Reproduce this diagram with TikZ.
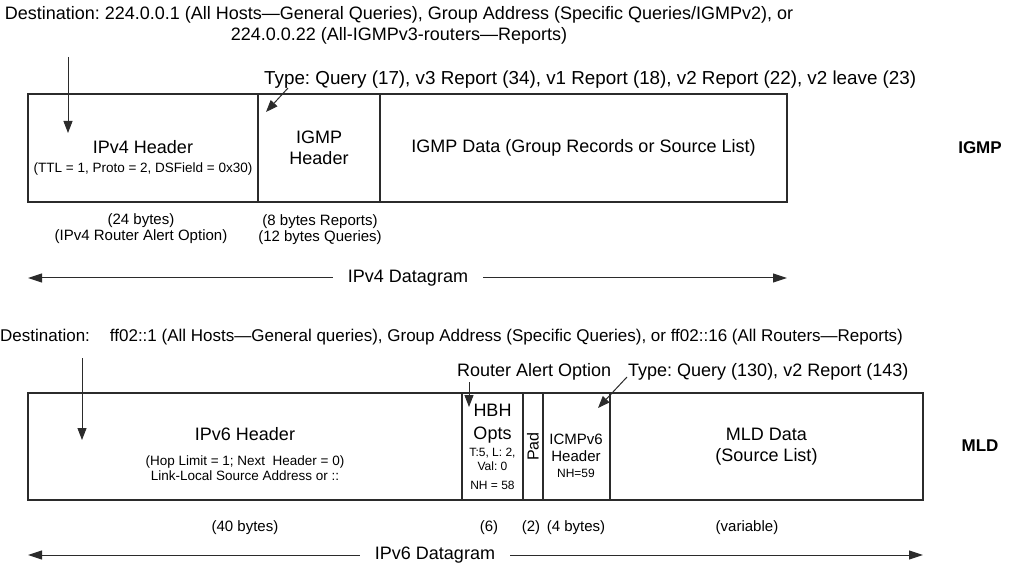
\documentclass[tikz,border=0pt]{standalone}
\usepackage{fontspec}
\setmainfont{Liberation Sans}
\usepackage{graphicx}
\usetikzlibrary{positioning,arrows.meta}
\frenchspacing
\definecolor{Frame}{HTML}{2B2B2B}
\newcommand\fnMain{\fontsize{18}{21}\selectfont}
\newcommand\fnNote{\fontsize{13.5}{15.5}\selectfont}
\newcommand\fnBytes{\fontsize{15}{16}\selectfont}
\newcommand\fnTiny{\fontsize{12}{14}\selectfont}
\newcommand\fnTag{\fontsize{17}{19}\selectfont\bfseries}

\begin{document}
\begin{tikzpicture}[x=1pt, y=-1pt, node distance=0pt, every node/.style={align=center, inner sep=0pt},
  field/.style={draw=Frame, line width=1.1pt, outer sep=0pt, minimum height=108pt, font=\fnMain},
  ptr/.style={draw=Frame, line width=1pt, -{Triangle[length=12pt,width=9pt]}},
  span/.style={draw=Frame, line width=1pt, -{Triangle[length=14pt,width=9pt]}},
  bytes/.style={font=\fnBytes}]
\useasboundingbox (0,0) rectangle (1010,564);

% IGMP packet
\node[font=\fnMain] (dest4) at (399,25) {Destination: 224.0.0.1 (All Hosts—General Queries), Group Address (Specific Queries/IGMPv2), or\\224.0.0.22 (All-IGMPv3-routers—Reports)};
\node[font=\fontsize{18.8}{21}\selectfont, anchor=west] (type4) at (264,80) {Type: Query (17), v3 Report (34), v1 Report (18), v2 Report (22), v2 leave (23)};
\node[field, minimum width=230pt, anchor=north west] (v4hdr) at (28,94) {};
\node[field, minimum width=122pt, right=of v4hdr] (igmphdr) {IGMP\\Header};
\node[field, minimum width=407pt, right=of igmphdr] (igmpdata) {IGMP Data (Group Records or Source List)};
\node[font=\fnMain] (v4txt) at (143,158) {IPv4 Header\\[-2.5pt]{\fnNote (TTL = 1, Proto = 2, DSField = 0x30)}};
\node[font=\fnTag] (tag4) at (980,148) {IGMP};
\coordinate (v4top) at (68,57);
\coordinate (v4tip) at (68,133);
\coordinate (t4top) at (288,88);
\coordinate (t4tip) at (266,112);
\draw[ptr] (v4top) -- (v4tip);
\draw[ptr] (t4top) -- (t4tip);
\node[bytes] (v4len) at (141,229) {(24 bytes)\\(IPv4 Router Alert Option)};
\node[bytes] (igmplen) at (320,230) {(8 bytes Reports)\\(12 bytes Queries)};
\node[font=\fnMain, inner xsep=15pt] (dg4) at (408,278) {IPv4 Datagram};
\coordinate (dg4l) at (28,278);
\coordinate (dg4r) at (787,278);
\draw[span] (dg4) -- (dg4l);
\draw[span] (dg4) -- (dg4r);

% MLD packet
\node[font=\fontsize{17}{19}\selectfont, anchor=west] (dest6) at (0,337) {Destination:\hspace{20pt}ff02::1 (All Hosts—General queries), Group Address (Specific Queries), or ff02::16 (All Routers—Reports)};
\node[font=\fnMain, anchor=west] (ralert) at (457,372) {Router Alert Option};
\node[font=\fnMain, anchor=west] (type6) at (628,372) {Type: Query (130), v2 Report (143)};
\node[field, minimum height=107pt, minimum width=434pt, anchor=north west] (v6hdr) at (28,393) {};
\node[field, minimum height=107pt, minimum width=61pt, right=of v6hdr, font=\fnTiny] (hbh) {{\fnMain HBH}\\[9pt]{\fnMain Opts}\\[2.8pt]T:5, L: 2,\\Val: 0\\[5pt]NH = 58};
\node[field, minimum height=107pt, minimum width=20pt, right=of hbh, font=\fontsize{16}{18}\selectfont] (pad) {\rotatebox{90}{Pad}};
\node[field, minimum height=107pt, minimum width=67pt, right=of pad] (icmp) {};
\node[field, minimum height=107pt, minimum width=313pt, right=of icmp] (mlddata) {MLD Data\\(Source List)};
\node[font=\fnMain] (v6txt) at (245,454) {IPv6 Header\\[3.5pt]{\fnNote (Hop Limit = 1; Next\ \ Header = 0)}\\[-6pt]{\fnNote Link-Local Source Address or ::}};
\node[font=\fontsize{15}{17}\selectfont] (icmptxt) at (576,456) {ICMPv6\\Header\\[-1pt]{\fnTiny NH=59}};
\node[font=\fnTag] (tag6) at (980,446) {MLD};
\coordinate (v6top) at (82,358);
\coordinate (v6tip) at (82,440);
\coordinate (ratop) at (469,382);
\coordinate (ratip) at (469,407);
\coordinate (t6top) at (627,377);
\coordinate (t6tip) at (598,408);
\draw[ptr] (v6top) -- (v6tip);
\draw[ptr] (ratop) -- (ratip);
\draw[ptr] (t6top) -- (t6tip);
\node[bytes] (v6len) at (245,528) {(40 bytes)};
\node[bytes] (hbhlen) at (489,528) {(6)};
\node[bytes] (padlen) at (531,528) {(2)};
\node[bytes] (icmplen) at (576,528) {(4 bytes)};
\node[bytes] (mldlen) at (747,528) {(variable)};
\node[font=\fnMain, inner xsep=15pt] (dg6) at (435,555) {IPv6 Datagram};
\coordinate (dg6l) at (28,555);
\coordinate (dg6r) at (923,555);
\draw[span] (dg6) -- (dg6l);
\draw[span] (dg6) -- (dg6r);
\end{tikzpicture}
\end{document}
